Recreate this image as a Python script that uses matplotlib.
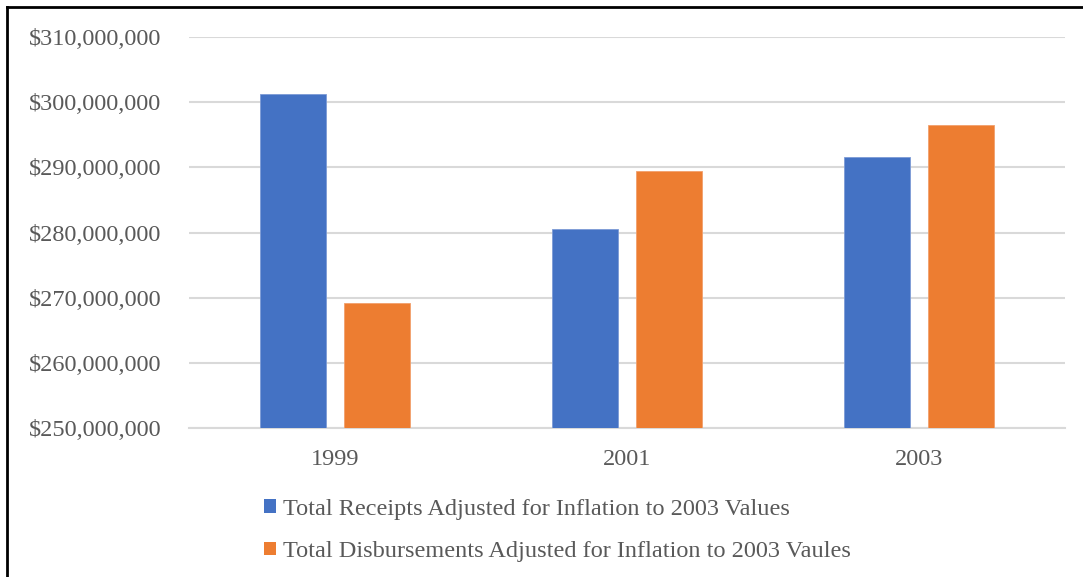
import matplotlib.pyplot as plt
import numpy as np
from matplotlib.lines import Line2D
from matplotlib.patches import Patch
from matplotlib.ticker import FuncFormatter

years = ["1999", "2001", "2003"]
receipts = [301_200_000, 280_500_000, 291_600_000]
disbursements = [269_200_000, 289_400_000, 296_500_000]
series_labels = [
    "Total Receipts Adjusted for Inflation to 2003 Values",
    "Total Disbursements Adjusted for Inflation to 2003 Vaules",
]
colors = ["#4472C4", "#ED7D31"]

plt.rcParams['font.family'] = ['Liberation Serif', 'DejaVu Serif']

fig = plt.figure(figsize=(10.83, 5.77), dpi=100)
ax = fig.add_axes([189 / 1083, 1 - 428 / 577, 876 / 1083, 391 / 577])

x = np.arange(len(years))
width = 0.226
offset = 0.144
ax.bar(x - offset, receipts, width, color=colors[0], zorder=3,
       edgecolor="#7d9bd6", linewidth=0.6)
ax.bar(x + offset, disbursements, width, color=colors[1], zorder=3,
       edgecolor="#f2a06c", linewidth=0.6)

ax.set_xlim(-0.5, 2.5)
ax.set_ylim(250_000_000, 310_000_000)
ax.set_yticks(np.arange(250_000_000, 310_000_001, 10_000_000))
ax.yaxis.set_major_formatter(FuncFormatter(lambda v, p: f"${v:,.0f}"))
ax.set_xticks(x)
ax.set_xticklabels(years)

ax.grid(axis='y', color='#d9d9d9', linewidth=1.5, zorder=0)
for side in ['top', 'right', 'left']:
    ax.spines[side].set_visible(False)
ax.spines['bottom'].set_color('#d9d9d9')
ax.spines['bottom'].set_linewidth(1.5)
ax.tick_params(axis='both', length=0, labelsize=17.5, colors='#595959')
ax.tick_params(axis='y', pad=20)
ax.tick_params(axis='x', pad=15)

handles = [Patch(facecolor=c, edgecolor='none') for c in colors]
fig.legend(handles, series_labels, loc='upper left',
           bbox_to_anchor=(264 / 1083, 1 - 499 / 577), frameon=False,
           fontsize=17.5, labelcolor='#595959', borderpad=0, borderaxespad=0,
           handlelength=0.5, handleheight=0.5, handletextpad=0.3,
           labelspacing=0.87)

# chart border (only left and top edges visible)
fig.add_artist(Line2D([7 / 1083, 7 / 1083], [0, 1 - 7 / 577], color='black',
                      linewidth=2, transform=fig.transFigure))
fig.add_artist(Line2D([7 / 1083, 1], [1 - 7 / 577, 1 - 7 / 577], color='black',
                      linewidth=2, transform=fig.transFigure))

fig.savefig("out.png", dpi=100)
